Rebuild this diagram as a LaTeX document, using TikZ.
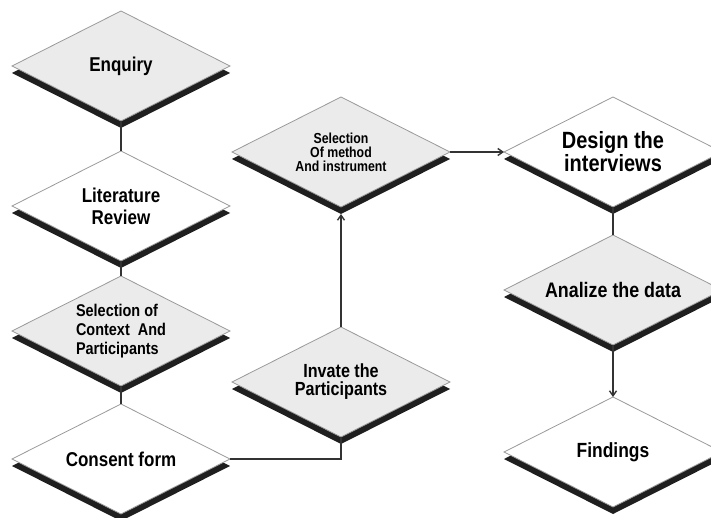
\documentclass[tikz,border=0pt]{standalone}
\usepackage{fontspec}
\setmainfont[FakeStretch=0.85]{Liberation Sans}
\usepackage{tikz}
\usetikzlibrary{arrows.meta,shapes.geometric,shadows}
\definecolor{boxGray}{HTML}{EBEBEB}
\definecolor{edgeGray}{HTML}{9A9A9A}
\definecolor{lineDark}{HTML}{333333}

\begin{document}
\begin{tikzpicture}[x=1pt,y=-1pt,
  stage/.style={diamond,shape aspect=2,draw=edgeGray,line width=0.8pt,
    minimum width=218pt,minimum height=110pt,inner sep=0pt,outer sep=0pt,align=center,
    drop shadow={shadow xshift=0pt,shadow yshift=-7pt,opacity=1,fill=black!88}},
  greystage/.style={stage,fill=boxGray},
  whitestage/.style={stage,fill=white},
  link/.style={draw=lineDark,line width=1.4pt},
  flow/.style={link,-{Straight Barb[length=5pt,width=7pt]}}]
  \path[use as bounding box,clip] (0,0) rectangle (711,518);
  % left column
  \node[greystage,font=\bfseries\fontsize{20}{22}\selectfont] (enquiry) at (121,66) {Enquiry};
  \node[whitestage,font=\bfseries\fontsize{20}{22}\selectfont] (litrev) at (121,206) {Literature\\Review};
  \node[greystage,font=\bfseries\fontsize{17}{19}\selectfont,align=left] (context) at (121,331) {Selection of\\Context\ \ And\\Participants};
  \node[whitestage,font=\bfseries\fontsize{20}{22}\selectfont] (consent) at (121,459) {Consent form};
  % middle column
  \node[greystage,font=\bfseries\fontsize{14.5}{14}\selectfont] (method) at (341,152) {Selection\\Of method\\And instrument};
  \node[greystage,font=\bfseries\fontsize{19}{18}\selectfont] (invite) at (341,382) {Invate the\\Participants};
  % right column
  \node[whitestage,font=\bfseries\fontsize{23.5}{21}\selectfont] (design) at (613,152) {Design the\\interviews};
  \node[greystage,font=\bfseries\fontsize{21}{22}\selectfont] (analyze) at (613,290) {Analize the data};
  \node[whitestage,font=\bfseries\fontsize{20.5}{22}\selectfont] (findings) at (613,452) {Findings};
  % connectors
  \foreach \a/\b in {enquiry/litrev,litrev/context,context/consent,design/analyze}{
    \draw[link] (\a.south) -- (\b.north);
  }
  \draw[link] (consent.east) -| (invite.south);
  \draw[flow,shorten >=7pt] (invite.north) -- (method.south);
  \draw[flow] (method.east) -- (design.west);
  \draw[flow] (analyze.south) -- (findings.north);
\end{tikzpicture}
\end{document}
